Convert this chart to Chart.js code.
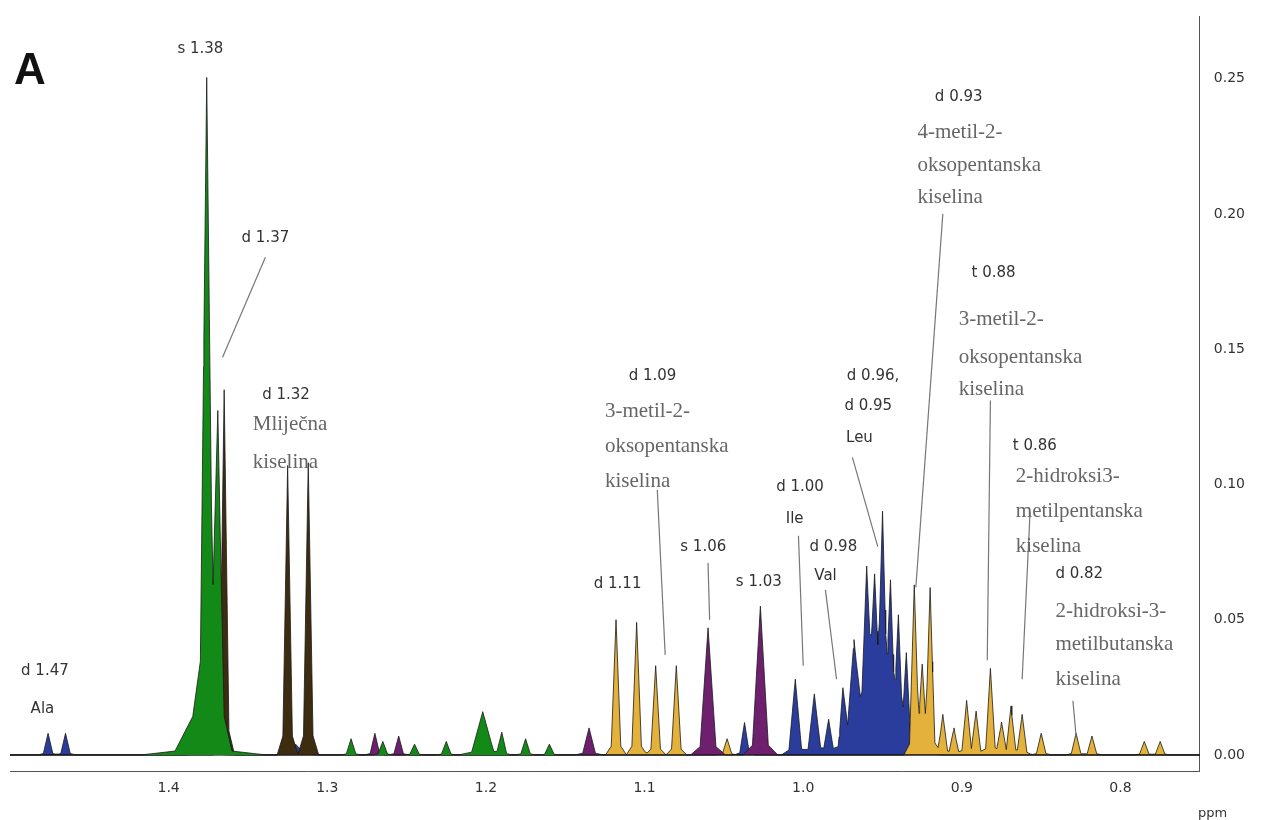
<!DOCTYPE html>
<html>
<head>
<meta charset="utf-8">
<script src="https://cdn.jsdelivr.net/npm/chart.js@4.4.1/dist/chart.umd.min.js"></script>
<style>
  html, body { margin: 0; background: #fff; }
  #wrap { width: 1263px; height: 820px; }
</style>
</head>
<body>
<div id="wrap"><canvas id="c"></canvas></div>
<script>
// peaks: [ppm, intensity, half width]
const peaksGreen = [
  [1.376, 0.228, 0.004], [1.378, 0.022, 0.018], [1.369, 0.110, 0.004],
  [1.285, 0.006, 0.003], [1.265, 0.005, 0.003], [1.245, 0.004, 0.003],
  [1.225, 0.005, 0.003], [1.202, 0.016, 0.007], [1.190, 0.008, 0.003],
  [1.175, 0.006, 0.003], [1.160, 0.004, 0.003]
];
const peaksBrown = [
  [1.365, 0.135, 0.003], [1.325, 0.107, 0.003], [1.312, 0.108, 0.003]
];
const peaksPurple = [
  [1.270, 0.008, 0.003], [1.255, 0.007, 0.003], [1.135, 0.010, 0.004],
  [1.060, 0.047, 0.005], [1.027, 0.055, 0.005]
];
const peaksGold = [
  [1.118, 0.050, 0.003], [1.105, 0.049, 0.003], [1.093, 0.033, 0.003],
  [1.080, 0.033, 0.003], [1.048, 0.006, 0.003], [0.930, 0.062, 0.003],
  [0.925, 0.030, 0.003], [0.920, 0.061, 0.003], [0.912, 0.015, 0.003],
  [0.905, 0.010, 0.003], [0.897, 0.020, 0.003], [0.891, 0.016, 0.003],
  [0.882, 0.032, 0.003], [0.875, 0.012, 0.003], [0.869, 0.018, 0.003],
  [0.862, 0.015, 0.003], [0.850, 0.008, 0.003], [0.828, 0.008, 0.003],
  [0.818, 0.007, 0.003], [0.785, 0.005, 0.003], [0.775, 0.005, 0.003]
];
const peaksBlue = [
  [1.476, 0.008, 0.003], [1.465, 0.008, 0.003], [1.376, 0.005, 0.006],
  [1.320, 0.004, 0.006], [1.037, 0.012, 0.003], [1.005, 0.028, 0.004],
  [0.993, 0.022, 0.004], [0.984, 0.012, 0.003], [0.975, 0.020, 0.003],
  [0.968, 0.030, 0.004], [0.960, 0.046, 0.003], [0.955, 0.040, 0.003],
  [0.950, 0.070, 0.003], [0.945, 0.050, 0.003], [0.940, 0.044, 0.003],
  [0.935, 0.035, 0.003], [0.957, 0.026, 0.020]
];

const xTicks = [1.4, 1.3, 1.2, 1.1, 1.0, 0.9, 0.8];
const yTicks = [0, 0.05, 0.10, 0.15, 0.20, 0.25];

// annotations: [text, ppm, intensity, style]
const labels = [
  ["s 1.38", 1.380, 0.261, "b"], ["d 1.37", 1.339, 0.191, "b"],
  ["d 1.32", 1.326, 0.133, "b"], ["d 1.11", 1.117, 0.063, "b"],
  ["d 1.09", 1.095, 0.140, "b"], ["s 1.06", 1.063, 0.077, "b"],
  ["s 1.03", 1.028, 0.064, "b"], ["d 1.00", 1.002, 0.099, "b"],
  ["d 0.98", 0.981, 0.077, "b"], ["d 0.96,", 0.956, 0.140, "b"],
  ["d 0.95", 0.959, 0.129, "b"], ["d 0.93", 0.902, 0.243, "b"],
  ["t 0.88", 0.880, 0.178, "b"], ["t 0.86", 0.854, 0.114, "b"],
  ["d 0.82", 0.826, 0.067, "b"], ["d 1.47", 1.478, 0.031, "b"]
];
const leftLabels = [
  ["Ile", 1.011, 0.087, "b"], ["Val", 0.993, 0.066, "b"], ["Leu", 0.973, 0.117, "b"],
  ["Ala", 1.487, 0.017, "b"],
  ["Mliječna", 1.347, 0.122, "s"], ["kiselina", 1.347, 0.108, "s"],
  ["3-metil-2-", 1.125, 0.127, "s"], ["oksopentanska", 1.125, 0.114, "s"], ["kiselina", 1.125, 0.101, "s"],
  ["4-metil-2-", 0.928, 0.230, "s"], ["oksopentanska", 0.928, 0.218, "s"], ["kiselina", 0.928, 0.206, "s"],
  ["3-metil-2-", 0.902, 0.161, "s"], ["oksopentanska", 0.902, 0.147, "s"], ["kiselina", 0.902, 0.135, "s"],
  ["2-hidroksi3-", 0.866, 0.103, "s"], ["metilpentanska", 0.866, 0.090, "s"], ["kiselina", 0.866, 0.077, "s"],
  ["2-hidroksi-3-", 0.841, 0.053, "s"], ["metilbutanska", 0.841, 0.041, "s"], ["kiselina", 0.841, 0.028, "s"]
];
// leader lines: [ppm1, y1, ppm2, y2]
const leaders = [
  [1.339, 0.184, 1.366, 0.147], [1.092, 0.098, 1.087, 0.037],
  [1.060, 0.071, 1.059, 0.050], [1.003, 0.081, 1.000, 0.033],
  [0.986, 0.061, 0.979, 0.028], [0.969, 0.110, 0.953, 0.077],
  [0.912, 0.200, 0.929, 0.062], [0.882, 0.131, 0.884, 0.035],
  [0.857, 0.090, 0.862, 0.028], [0.830, 0.020, 0.828, 0.007]
];

// each peak drawn as a sharp top over a slightly wider, low skirt
function formas(peaks) {
  const out = [];
  peaks.forEach(([c, h, w]) => { out.push([c, h * 0.88, w]); out.push([c, h * 0.12, w * 2.2]); });
  return out;
}
function spectrum(peaks) {
  const f = formas(peaks);
  const xs = new Set([1.50, 0.75]);
  f.forEach(([c, h, w]) => { xs.add(c - w); xs.add(c); xs.add(c + w); });
  return [...xs].sort((a, b) => b - a).map((x) => ({
    x, y: f.reduce((s, [c, h, w]) => s + Math.max(0, h * (1 - Math.abs(x - c) / w)), 0)
  }));
}
function serie(peaks, cor) {
  return {
    data: spectrum(peaks), backgroundColor: cor, borderColor: "#1a1a1a",
    borderWidth: 0.8, fill: "origin", pointRadius: 0, tension: 0
  };
}

const anotacoes = {
  id: "anotacoes",
  afterDatasetsDraw(chart) {
    const { ctx, scales: { x, y } } = chart;
    ctx.save();
    ctx.strokeStyle = "#777"; ctx.lineWidth = 1.2;
    leaders.forEach(([a, b, c, d]) => {
      ctx.beginPath(); ctx.moveTo(x.getPixelForValue(a), y.getPixelForValue(b));
      ctx.lineTo(x.getPixelForValue(c), y.getPixelForValue(d)); ctx.stroke();
    });
    ctx.textBaseline = "middle";
    const fonte = (s) => s === "b" ? "15px 'DejaVu Sans'" : "21px 'Liberation Serif'";
    ctx.textAlign = "center";
    labels.forEach(([t, px, py, s]) => {
      ctx.font = fonte(s); ctx.fillStyle = s === "b" ? "#333" : "#666";
      ctx.fillText(t, x.getPixelForValue(px), y.getPixelForValue(py));
    });
    ctx.textAlign = "left";
    leftLabels.forEach(([t, px, py, s]) => {
      ctx.font = fonte(s); ctx.fillStyle = s === "b" ? "#333" : "#666";
      ctx.fillText(t, x.getPixelForValue(px), y.getPixelForValue(py));
    });
    ctx.font = "bold 44px 'Liberation Sans'"; ctx.fillStyle = "#111";
    ctx.fillText("A", 14, 72);
    ctx.font = "13px 'DejaVu Sans'"; ctx.fillStyle = "#333";
    ctx.fillText("ppm", 1198, 814);
    ctx.restore();
  }
};

new Chart(document.getElementById("c"), {
  type: "line",
  data: {
    datasets: [
      serie(peaksGreen, "#138a18"),
      serie(peaksBrown, "#3d2c10"),
      serie(peaksPurple, "#6e1f6e"),
      serie(peaksGold, "#e4b23a"),
      serie(peaksBlue, "#2b3d9c")
    ]
  },
  options: {
    responsive: true, maintainAspectRatio: false, animation: false,
    layout: { padding: { left: 10, right: 10, top: 0, bottom: 20 } },
    plugins: { legend: { display: false }, tooltip: { enabled: false } },
    scales: {
      x: {
        type: "linear", reverse: true, min: 0.75, max: 1.50,
        grid: { display: false, drawTicks: true, tickLength: 6 },
        border: { color: "#555" },
        afterBuildTicks: (ax) => { ax.ticks = xTicks.map((v) => ({ value: v })); },
        ticks: { color: "#333", font: { size: 14, family: "DejaVu Sans" }, callback: (v) => v.toFixed(1) }
      },
      y: {
        position: "right", min: -0.006, max: 0.273,
        grid: { display: false, tickLength: 6 },
        border: { color: "#555" },
        afterBuildTicks: (ax) => { ax.ticks = yTicks.map((v) => ({ value: v })); },
        ticks: { color: "#333", font: { size: 14, family: "DejaVu Sans" }, callback: (v) => v.toFixed(2), padding: 8 }
      }
    }
  },
  plugins: [anotacoes]
});
</script>
</body>
</html>
